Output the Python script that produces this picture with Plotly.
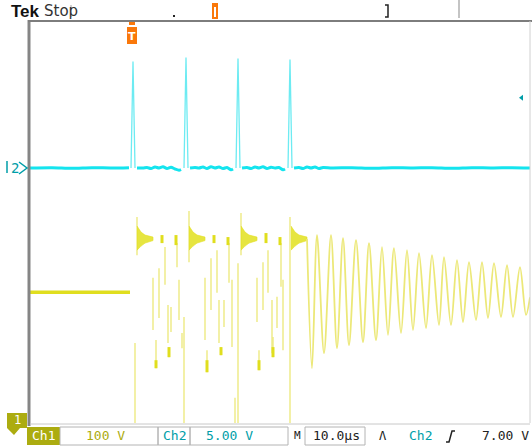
import plotly.graph_objects as go

# ---------------- acquisition settings ----------------
US_PER_DIV = 10.0
T_START = -20.4                     # µs at left graticule edge (trigger at 0 µs)
T_END = T_START + 10 * US_PER_DIV
N_DIV_Y = 8
CH1_V_PER_DIV, CH1_GND_DIV = 100.0, 0.0     # Ch1 ground at bottom edge
CH2_V_PER_DIV, CH2_GND_DIV = 5.0, 5.075     # Ch2 ground marker "2>"
TRIG_LEVEL_V = 7.0

# ---------------- Ch2 (cyan): gate pulses ----------------
ch2_base_t = [
    [-20.4, -16.0, -12.0, -8.0, -4.0, -0.6],
    [1.0, 2.2, 3.0, 3.8, 4.6, 5.4, 6.2, 7.0, 7.8, 8.6, 9.4, 9.8],
    [11.6, 12.6, 13.4, 14.2, 15.0, 15.8, 16.6, 17.4, 18.2, 19.0, 19.8, 20.2],
    [22.0, 23.0, 23.8, 24.6, 25.4, 26.2, 27.0, 27.8, 28.6, 29.4, 30.2, 30.6],
    [32.4, 33.4, 34.2, 35.0, 35.8, 36.6, 37.4, 38.2, 40.0, 44.0, 48.0, 52.0,
     56.0, 60.0, 64.0, 68.0, 72.0, 76.0, 79.6],
]
ch2_base_v = [
    [0.0, 0.03, -0.03, 0.03, 0.0, 0.03],
    [0.0, 0.0, 0.05, -0.05, 0.1, 0.0, 0.12, -0.05, 0.08, -0.1, -0.22, -0.15],
    [0.0, 0.05, 0.0, 0.1, -0.05, 0.12, 0.0, 0.1, -0.05, 0.05, -0.18, -0.1],
    [0.0, 0.05, -0.05, 0.1, 0.0, 0.12, -0.05, 0.08, 0.0, 0.05, -0.18, -0.1],
    [0.0, 0.05, -0.05, 0.1, 0.0, 0.1, -0.05, 0.05, 0.0, 0.03, -0.03, 0.03,
     0.0, 0.03, -0.03, 0.03, 0.0, 0.03, 0.0],
]
ch2_spike_t = [0.2, 10.8, 21.2, 31.6]
ch2_spike_v = [10.6, 11.0, 10.9, 10.8]

# ---------------- Ch1 (yellow): switched node ----------------
ch1_flat_t = [-20.4, -0.4]
ch1_flat_v = [260.0, 260.0]

# vertical strokes during the pulse bursts: time, upper V, lower V
ch1_seg_t = [0.6, 1.0, 4.2, 4.8, 5.4, 6.6, 7.2, 7.4, 7.8, 9.0, 9.4, 10.0, 10.4,
             11.4, 14.6, 15.0, 15.8, 17.0, 17.4, 17.8, 18.4, 19.4, 20.0, 20.6, 21.2,
             21.8, 25.0, 25.4, 26.2, 27.2, 28.0, 28.2, 29.0, 29.8, 30.2, 31.6]
ch1_seg_hi = [159, 410, 289, 165, 308, 350, 235, 151, 231, 358, 285, 179, 211,
              422, 289, 145, 328, 344, 245, 151, 245, 358, 285, 50, 318,
              418, 289, 145, 320, 344, 245, 171, 251, 358, 285, 410]
ch1_seg_lo = [-20, 334, 185, 109, 209, 275, 159, 131, 181, 310, 205, 149, -20,
              320, 165, 101, 225, 259, 159, 135, 191, 279, 151, -20, -20,
              334, 201, 105, 225, 259, 139, 131, 189, 271, 145, -20]

# brighter short dwell marks at the local extremes
ch1_blob_t = [4.8, 6.0, 7.4, 8.8, 15.0, 16.4, 17.8, 19.2, 25.4, 26.8, 28.2, 29.6]
ch1_blob_hi = [125, 374, 151, 374, 125, 374, 151, 370, 125, 378, 151, 370]
ch1_blob_lo = [109, 358, 131, 354, 101, 358, 135, 354, 105, 358, 131, 354]

# ringing after each pulse edge
ch1_ring_t0 = [1.0, 11.4, 21.8, 31.8]
ch1_ring_dt = [0.0, 0.8, 1.6, 2.4, 3.2]
ch1_ring_hi = [392, 380, 374, 372, 370]
ch1_ring_lo = [344, 352, 358, 361, 363]

# free ringing after the last pulse (extremes)
ch1_osc_t = [35.0, 36.0, 37.0, 38.4, 39.8, 41.0, 42.2, 43.4, 44.8, 46.2, 47.4,
             48.8, 50.0, 51.2, 52.4, 53.8, 55.0, 56.2, 57.4, 58.8, 60.0, 61.4,
             62.4, 63.8, 65.0, 66.2, 67.4, 68.8, 70.0, 71.2, 72.4, 73.8, 75.0,
             76.2, 77.6, 78.8, 79.6]
ch1_osc_v = [366, 109, 374, 139, 374, 149, 368, 155, 364, 161, 358,
             165, 350, 175, 348, 179, 344, 185, 338, 189, 334, 195,
             330, 195, 324, 201, 320, 205, 320, 209, 318, 211, 314,
             211, 310, 215, 250]

# ---------------- helpers ----------------
W, H = 532, 447
ML, MR, MT, MB = 30, 2, 21, 24
PW, PH = W - ML - MR, H - MT - MB


def px(x):
    return (x - ML) / PW


def py(y):
    return (H - MB - y) / PH


def segs(ts, his, los):
    xs, ys = [], []
    for t, a, b in zip(ts, his, los):
        xs += [t, t, None]
        ys += [a, b, None]
    return xs, ys


YEL_THIN = "rgb(236,232,120)"
YEL = "rgb(224,222,30)"
CYAN = "rgb(20,228,238)"
OLIVE = "rgb(172,172,16)"
TEAL = "rgb(0,158,168)"
ORANGE = "rgb(250,120,10)"

fig = go.Figure()

# Ch1 traces
fig.add_trace(go.Scatter(x=ch1_flat_t, y=ch1_flat_v, mode="lines",
                         line=dict(color=YEL, width=3.5), yaxis="y"))
sx, sy = segs(ch1_seg_t, ch1_seg_hi, ch1_seg_lo)
fig.add_trace(go.Scatter(x=sx, y=sy, mode="lines",
                         line=dict(color=YEL_THIN, width=1.3), yaxis="y"))
bx, by = segs(ch1_blob_t, ch1_blob_hi, ch1_blob_lo)
fig.add_trace(go.Scatter(x=bx, y=by, mode="lines",
                         line=dict(color=YEL, width=3), yaxis="y"))
for t0 in ch1_ring_t0:
    rx = [t0 + d for d in ch1_ring_dt] + [t0 + d for d in reversed(ch1_ring_dt)]
    ry = list(ch1_ring_hi) + list(reversed(ch1_ring_lo))
    fig.add_trace(go.Scatter(x=rx, y=ry, mode="lines", fill="toself",
                             fillcolor="rgba(226,224,30,0.85)",
                             line=dict(color="rgba(226,224,30,0.6)", width=1),
                             yaxis="y"))
fig.add_trace(go.Scatter(x=ch1_osc_t, y=ch1_osc_v, mode="lines",
                         line=dict(color=YEL_THIN, width=1.8, shape="spline",
                                   smoothing=0.9), yaxis="y"))

# Ch2 traces
kx, ky = [], []
for t, v in zip(ch2_spike_t, ch2_spike_v):
    kx += [t - 0.4, t, t + 0.4, None]
    ky += [0.0, v, 0.0, None]
fig.add_trace(go.Scatter(x=kx, y=ky, mode="lines",
                         line=dict(color="rgba(60,228,238,0.75)", width=1.3),
                         yaxis="y2"))
for ts, vs in zip(ch2_base_t, ch2_base_v):
    fig.add_trace(go.Scatter(x=ts, y=vs, mode="lines",
                             line=dict(color=CYAN, width=3, shape="spline",
                                       smoothing=0.8), yaxis="y2"))

# ---------------- decorations ----------------
shapes = []


def line(x0, y0, x1, y1, color, width):
    shapes.append(dict(type="line", xref="paper", yref="paper",
                       x0=px(x0), y0=py(y0), x1=px(x1), y1=py(y1),
                       line=dict(color=color, width=width)))


def rect(x0, y0, x1, y1, fill=None, edge=None, width=1):
    shapes.append(dict(type="rect", xref="paper", yref="paper",
                       x0=px(x0), y0=py(y0), x1=px(x1), y1=py(y1),
                       fillcolor=fill if fill else "rgba(0,0,0,0)",
                       line=dict(color=edge if edge else "rgba(0,0,0,0)",
                                 width=width if edge else 0)))


def path(pts, fill=None, edge=None, width=1, closed=True):
    d = "M " + " L ".join(f"{px(x)},{py(y)}" for x, y in pts)
    if closed:
        d += " Z"
    shapes.append(dict(type="path", xref="paper", yref="paper", path=d,
                       fillcolor=fill if fill else "rgba(0,0,0,0)",
                       line=dict(color=edge if edge else "rgba(0,0,0,0)",
                                 width=width if edge else 0)))


# graticule frame
line(29, 20, 29, 426, "#858585", 3)
line(28, 21, 532, 21, "#7d7d7d", 2)
line(530, 21, 530, 423, "#d0d0d0", 1)
line(30, 424, 530, 424, "#c8c8c8", 1)

# record bar at top
line(71, 5, 71, 17, "#a8a8a8", 1)
rect(173, 15, 175, 17, fill="#222")
path([(212, 3), (218, 3), (218, 5), (212, 5)], fill=ORANGE)
rect(213, 6, 217, 18, edge=ORANGE, width=2)
path([(385, 5), (388, 5), (388, 17), (385, 17)], edge="#222", width=1.5, closed=False)
line(459, 0, 459, 18, "#c4c4c4", 2)

# trigger position marker
rect(129, 22, 135, 25, fill=ORANGE)
rect(127, 27, 137, 44, fill=ORANGE)

# trigger level marker (Ch2)
lvl_y = H - MB - (CH2_GND_DIV + TRIG_LEVEL_V / CH2_V_PER_DIV) * PH / N_DIV_Y
path([(523, lvl_y - 3), (519, lvl_y), (523, lvl_y + 3)], fill=TEAL)

# Ch2 ground marker
g2 = H - MB - CH2_GND_DIV * PH / N_DIV_Y
line(7, g2 - 7, 7, g2 + 5, TEAL, 1.5)
path([(19, g2 - 6), (27, g2), (19, g2 + 6)], edge=TEAL, width=1.5, closed=False)

# Ch1 ground marker (off screen below)
path([(7, 413), (27, 413), (27, 428), (20, 428), (14, 435), (7, 428)], fill=OLIVE)

# status bar boxes
rect(27, 427, 60, 445, fill=OLIVE)
rect(60, 427, 158, 445, edge="#b4b4b4")
rect(158, 427, 190, 445, edge="#b4b4b4")
rect(190, 427, 288, 445, edge="#b4b4b4")
rect(305, 427, 365, 445, edge="#b4b4b4")
path([(446, 442), (449, 442), (452, 431), (455, 431)], edge="#222", width=1.5, closed=False)

ann = []


def text(s, x, y, color, size, family="DejaVu Sans Mono", bold=False, anchor="center"):
    ann.append(dict(text=f"<b>{s}</b>" if bold else s, xref="paper", yref="paper",
                    x=px(x), y=py(y), xanchor=anchor, yanchor="middle",
                    showarrow=False,
                    font=dict(color=color, size=size, family=family)))


text("Tek", 25, 11, "#111", 17, family="Liberation Sans", bold=True)
text("Stop", 61, 11, "#333", 15, family="DejaVu Sans")
text("T", 132, 36, "white", 11, family="DejaVu Sans", bold=True)
text("2", 15, g2, TEAL, 14)
text("1", 17, 420, "white", 12)
text("Ch1", 43.5, 436, "white", 13)
text("100 V", 105, 436, OLIVE, 13)
text("Ch2", 174, 436, TEAL, 13)
text("5.00 V", 229, 436, TEAL, 13)
text("M", 297, 436, "#222", 11)
text("10.0µs", 336, 436, "#222", 13)
text("Λ", 383, 436, "#222", 12)
text("Ch2", 420, 436, TEAL, 13)
text("7.00 V", 505, 436, "#222", 13)

fig.update_layout(
    width=W, height=H,
    margin=dict(l=ML, r=MR, t=MT, b=MB),
    paper_bgcolor="white", plot_bgcolor="white",
    showlegend=False,
    xaxis=dict(range=[T_START, T_END], visible=False, fixedrange=True),
    yaxis=dict(range=[-CH1_GND_DIV * CH1_V_PER_DIV,
                      (N_DIV_Y - CH1_GND_DIV) * CH1_V_PER_DIV],
               visible=False, fixedrange=True),
    yaxis2=dict(range=[-CH2_GND_DIV * CH2_V_PER_DIV,
                       (N_DIV_Y - CH2_GND_DIV) * CH2_V_PER_DIV],
                overlaying="y", visible=False, fixedrange=True),
    shapes=shapes,
    annotations=ann,
)

fig.write_html("out.html", config=dict(displayModeBar=False))
